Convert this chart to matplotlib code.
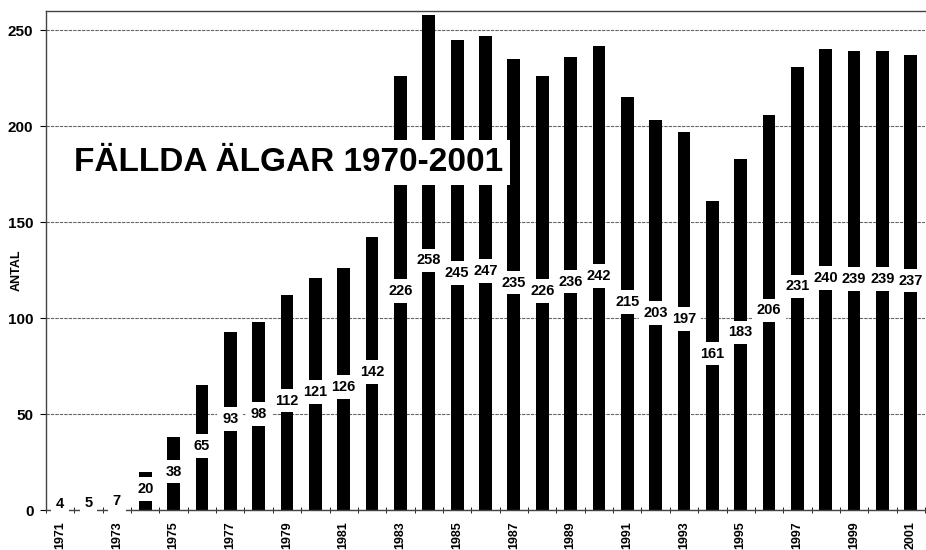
import numpy as np
import matplotlib
matplotlib.use("Agg")
import matplotlib.pyplot as plt

plt.rcParams['font.family'] = ['Liberation Sans', 'DejaVu Sans']

years = list(range(1971, 2002))
antal = [4, 5, 7, 20, 38, 65, 93, 98, 112, 121, 126, 142, 226, 258, 245, 247,
         235, 226, 236, 242, 215, 203, 197, 161, 183, 206, 231, 240, 239, 239, 237]
title = "FÄLLDA ÄLGAR 1970-2001"


def draw(years, antal):
    fig = plt.figure(figsize=(9.26, 5.5), dpi=100)
    ax = fig.add_axes([46 / 926, 1 - 510 / 550, 879 / 926, 499 / 550])
    x = np.arange(len(years))

    ax.bar(x, antal, width=0.45, color='black', zorder=2)
    for xi, v in zip(x, antal):
        ax.text(xi, v / 2 + 1, str(v), ha='center', va='center', fontsize=10.5,
                fontweight='bold', zorder=3,
                bbox=dict(facecolor='white', edgecolor='none', pad=3.5))

    ax.set_xlim(-0.5, len(years) - 0.5)
    ax.set_ylim(0, 260)
    ax.set_yticks([0, 50, 100, 150, 200, 250])
    ax.yaxis.grid(True, linestyle=(0, (3, 1)), color='#666666', linewidth=0.8, zorder=0)
    ax.tick_params(axis='y', length=4, labelsize=11, pad=5)
    for lab in ax.get_yticklabels():
        lab.set_fontweight('bold')

    ax.set_xticks(x[::2])
    ax.set_xticklabels([str(y) for y in years[::2]], rotation=90,
                       fontsize=9, fontweight='bold')
    ax.set_xticks(np.arange(len(years) + 1) - 0.5, minor=True)
    ax.tick_params(axis='x', which='major', length=0, pad=8)
    ax.tick_params(axis='x', which='minor', length=4, direction='inout')

    ax.spines['right'].set_visible(False)
    for s in ['left', 'top', 'bottom']:
        ax.spines[s].set_color('#444444')
        ax.spines[s].set_linewidth(1)

    ax.set_ylabel("ANTAL", fontsize=9, fontweight='bold', labelpad=2)
    ax.yaxis.set_label_coords(-0.027, 0.48)

    ax.text(0.5, 181, title, fontsize=24, fontweight='bold', va='center',
            ha='left', zorder=4,
            bbox=dict(facecolor='white', edgecolor='none', pad=5))

    fig.savefig("out.png", dpi=100)


draw(years, antal)
